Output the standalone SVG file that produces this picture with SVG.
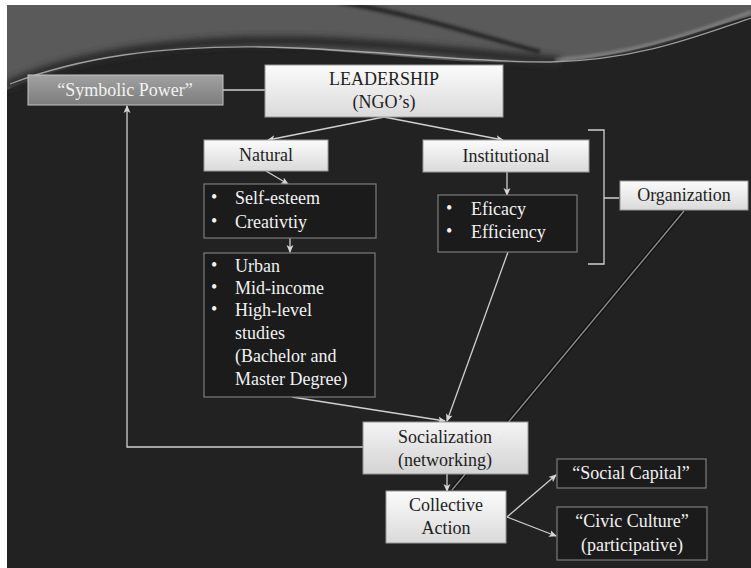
<svg xmlns="http://www.w3.org/2000/svg" width="751" height="568" viewBox="0 0 751 568">
<style>
.t{font-family:"Liberation Serif","DejaVu Serif",serif;font-size:18px}
.dk{fill:#1e1e1e}
.lt{fill:#f2f2f2}
.mid{text-anchor:middle}
.lb{fill:url(#lg);stroke:#9a9a9a;stroke-width:1}
.ob{fill:#1b1b1b;stroke:#7c7c7c;stroke-width:1.2}
.c{fill:none;stroke:#cfcfcf;stroke-width:1.3}
</style>
<defs>
<linearGradient id="lg" x1="0" y1="0" x2="0" y2="1">
<stop offset="0" stop-color="#fbfbfb"/>
<stop offset="1" stop-color="#dadada"/>
</linearGradient>
<linearGradient id="sg" x1="0" y1="0" x2="0" y2="1">
<stop offset="0" stop-color="#a2a2a2"/>
<stop offset="1" stop-color="#7c7c7c"/>
</linearGradient>
<filter id="bl" x="-10%" y="-50%" width="120%" height="200%">
<feGaussianBlur stdDeviation="3"/>
</filter>
<filter id="bl2" x="-10%" y="-50%" width="120%" height="200%">
<feGaussianBlur stdDeviation="1.5"/>
</filter>
<clipPath id="cp"><rect x="7" y="5" width="744" height="563"/></clipPath>
<marker id="ar" viewBox="0 0 8 8" refX="7" refY="4" markerWidth="8" markerHeight="8" markerUnits="userSpaceOnUse" orient="auto">
<path d="M0,0.5 L8,4 L0,7.5 L2,4 Z" fill="#d6d6d6"/>
</marker>
</defs>
<rect x="0" y="0" width="751" height="568" fill="#ffffff"/>
<g id="background" clip-path="url(#cp)">
<rect x="7" y="5" width="744" height="563" fill="#222222"/>
<path d="M7,0 H751 V16 C700,30 630,58 550,62 C450,66 360,50 260,47 C160,44 80,58 7,90 Z" fill="#5a5a5a"/>
<path d="M7,86 C70,56 170,40 290,41 C400,43 480,56 560,61" fill="none" stroke="#2c2c2c" stroke-width="10" filter="url(#bl)"/>
<path d="M340,2 C420,16 480,36 540,52" fill="none" stroke="#2a2a2a" stroke-width="5" filter="url(#bl2)"/>
<path d="M10,84 C80,57 160,46 260,47 C360,48 450,62 550,62 C640,60 700,35 751,18" fill="none" stroke="#c4c4c4" stroke-width="1.3" opacity="0.75"/>
<path d="M555,60 C640,54 700,30 751,12" fill="none" stroke="#b0b0b0" stroke-width="3" opacity="0.5" filter="url(#bl2)"/>
</g>
<g id="connectors">
<line class="c" x1="223" y1="90" x2="265" y2="90"/>
<polyline class="c" points="363,447 127,447 127,106" marker-end="url(#ar)"/>
<line class="c" x1="384" y1="117" x2="268" y2="140" marker-end="url(#ar)"/>
<line class="c" x1="384" y1="117" x2="503" y2="140" marker-end="url(#ar)"/>
<line class="c" x1="266" y1="171" x2="288" y2="184" marker-end="url(#ar)"/>
<line class="c" x1="290" y1="238" x2="290" y2="252" marker-end="url(#ar)"/>
<line class="c" x1="507" y1="172" x2="507" y2="195" marker-end="url(#ar)"/>
<line class="c" x1="508" y1="252" x2="447" y2="421" marker-end="url(#ar)"/>
<line class="c" x1="292" y1="397" x2="445" y2="421" marker-end="url(#ar)"/>
<line x1="684" y1="211" x2="452" y2="490" stroke="#111" stroke-width="4"/>
<line x1="684" y1="211" x2="452" y2="490" stroke="#8e8e8e" stroke-width="1.4"/>
<line class="c" x1="447" y1="474" x2="447" y2="491" marker-end="url(#ar)"/>
<line class="c" x1="507" y1="517" x2="556" y2="475" marker-end="url(#ar)"/>
<line class="c" x1="507" y1="517" x2="556" y2="536" marker-end="url(#ar)"/>
<path class="c" d="M588,130 H604 V264 H588 M604,198 H619"/>
</g>
<g id="symbolic-power">
<rect x="28" y="75" width="195" height="30" fill="url(#sg)" stroke="#c4c4c4" stroke-width="1"/>
<text class="t lt mid" x="125" y="96">“Symbolic Power”</text>
</g>
<g id="leadership">
<rect class="lb" x="265" y="65" width="238" height="52"/>
<text class="t dk mid" x="384" y="85">LEADERSHIP</text>
<text class="t dk mid" x="384" y="108">(NGO’s)</text>
</g>
<g id="natural">
<rect class="lb" x="204" y="140" width="124" height="31"/>
<text class="t dk mid" x="266" y="161">Natural</text>
</g>
<g id="institutional">
<rect class="lb" x="423" y="140" width="166" height="32"/>
<text class="t dk mid" x="506" y="162">Institutional</text>
</g>
<g id="self-esteem">
<rect class="ob" x="204" y="184" width="172" height="54"/>
<text class="t lt" x="211" y="203">•</text>
<text class="t lt" x="235" y="204">Self-esteem</text>
<text class="t lt" x="211" y="227">•</text>
<text class="t lt" x="235" y="228">Creativtiy</text>
</g>
<g id="urban">
<rect class="ob" x="204" y="253" width="171" height="144"/>
<text class="t lt" x="211" y="271">•</text>
<text class="t lt" x="235" y="272">Urban</text>
<text class="t lt" x="211" y="293">•</text>
<text class="t lt" x="235" y="294">Mid-income</text>
<text class="t lt" x="211" y="315">•</text>
<text class="t lt" x="235" y="316">High-level</text>
<text class="t lt" x="235" y="339">studies</text>
<text class="t lt" x="235" y="362">(Bachelor and</text>
<text class="t lt" x="235" y="385">Master Degree)</text>
</g>
<g id="eficacy">
<rect class="ob" x="438" y="195" width="139" height="57"/>
<text class="t lt" x="446" y="214">•</text>
<text class="t lt" x="471" y="215">Eficacy</text>
<text class="t lt" x="446" y="237">•</text>
<text class="t lt" x="471" y="238">Efficiency</text>
</g>
<g id="organization">
<rect class="lb" x="620" y="181" width="128" height="29"/>
<text class="t dk mid" x="684" y="201">Organization</text>
</g>
<g id="socialization">
<rect class="lb" x="363" y="422" width="165" height="52" opacity="0.97"/>
<text class="t dk mid" x="445" y="443">Socialization</text>
<text class="t dk mid" x="445" y="466">(networking)</text>
</g>
<g id="collective-action">
<rect class="lb" x="386" y="491" width="120" height="52"/>
<text class="t dk mid" x="446" y="511">Collective</text>
<text class="t dk mid" x="446" y="534">Action</text>
</g>
<g id="social-capital">
<rect class="ob" x="557" y="459" width="149" height="29"/>
<text class="t lt mid" x="631" y="479">“Social Capital”</text>
</g>
<g id="civic-culture">
<rect class="ob" x="557" y="507" width="150" height="53"/>
<text class="t lt mid" x="632" y="527">“Civic Culture”</text>
<text class="t lt mid" x="632" y="551">(participative)</text>
</g>
</svg>
